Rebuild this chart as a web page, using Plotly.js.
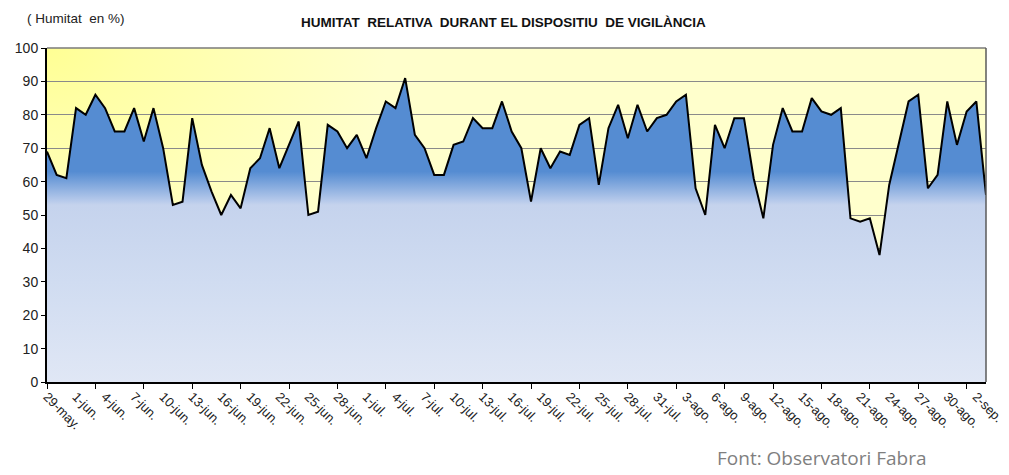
<!DOCTYPE html>
<html>
<head>
<meta charset="utf-8">
<script src="https://cdn.plot.ly/plotly-3.0.1.min.js"></script>
<style>
  html, body { margin: 0; padding: 0; background: #ffffff; }
  #chart { width: 1009px; height: 475px; }
</style>
</head>
<body>
<div id="chart"></div>
<script>
// Daily relative humidity (%) from 29 May to 3 Sep
const startDate = "2023-05-29";
const humidity = [
  69, 62, 61, 82, 80, 86, 82, 75, 75, 82,
  72, 82, 70, 53, 54, 79, 65, 57, 50, 56,
  52, 64, 67, 76, 64, 71, 78, 50, 51, 77,
  75, 70, 74, 67, 76, 84, 82, 91, 74, 70,
  62, 62, 71, 72, 79, 76, 76, 84, 75, 70,
  54, 70, 64, 69, 68, 77, 79, 59, 76, 83,
  73, 83, 75, 79, 80, 84, 86, 58, 50, 77,
  70, 79, 79, 61, 49, 71, 82, 75, 75, 85,
  81, 80, 82, 49, 48, 49, 38, 59, 72, 84,
  86, 58, 62, 84, 71, 81, 84, 56
];
const tickLabels = [
  "29-may.", "1-jun.", "4-jun.", "7-jun.", "10-jun.", "13-jun.", "16-jun.",
  "19-jun.", "22-jun.", "25-jun.", "28-jun.", "1-jul.", "4-jul.", "7-jul.",
  "10-jul.", "13-jul.", "16-jul.", "19-jul.", "22-jul.", "25-jul.", "28-jul.",
  "31-jul.", "3-ago.", "6-ago.", "9-ago.", "12-ago.", "15-ago.", "18-ago.",
  "21-ago.", "24-ago.", "27-ago.", "30-ago.", "2-sep."
];
const yTicks = [0, 10, 20, 30, 40, 50, 60, 70, 80, 90, 100];

// build the day categories
const dates = [];
(function () {
  const d0 = new Date(startDate + "T00:00:00Z");
  for (let i = 0; i < humidity.length; i++) {
    const d = new Date(d0.getTime() + i * 86400000);
    dates.push(d.toISOString().slice(0, 10));
  }
})();
const labelVals = tickLabels.map((_, k) => dates[k * 3]);
const minorVals = dates.filter((_, i) => i % 5 === 0);

const bgSvg =
  '<svg xmlns="http://www.w3.org/2000/svg" width="940" height="334" viewBox="0 0 940 334" preserveAspectRatio="none">' +
  '<defs><radialGradient id="g" gradientUnits="userSpaceOnUse" cx="0" cy="0" r="340" ' +
  'gradientTransform="scale(1,0.75)">' +
  '<stop offset="0" stop-color="#ffff94"/><stop offset="0.25" stop-color="#ffffa6"/><stop offset="1" stop-color="#ffffcc"/>' +
  '</radialGradient></defs><rect width="940" height="334" fill="#ffffcc"/>' +
  '<rect width="940" height="334" fill="url(#g)"/></svg>';
const bgUri = "data:image/svg+xml;charset=utf-8," + encodeURIComponent(bgSvg);

const trace = {
  x: dates,
  y: humidity,
  type: "scatter",
  mode: "lines",
  fill: "tozeroy",
  line: { color: "#000000", width: 2 },
  fillgradient: {
    type: "vertical",
    start: 0,
    stop: 100,
    colorscale: [
      [0, "rgb(224,231,245)"],
      [0.3, "rgb(208,220,241)"],
      [0.53, "rgb(197,211,237)"],
      [0.545, "rgb(180,200,234)"],
      [0.63, "rgb(85,140,210)"],
      [1, "rgb(85,140,210)"]
    ]
  },
  hoverinfo: "x+y",
  showlegend: false
};

const font = "Liberation Sans, Arial, sans-serif";

const layout = {
  width: 1009,
  height: 475,
  margin: { l: 47, r: 23, t: 48, b: 93 },
  paper_bgcolor: "#ffffff",
  plot_bgcolor: "rgba(0,0,0,0)",
  font: { family: font, size: 12, color: "#222222" },
  title: {
    text: "<b>HUMITAT  RELATIVA  DURANT EL DISPOSITIU  DE VIGILÀNCIA</b>",
    font: { family: font, size: 13.5, color: "#111111" },
    x: 0.486, xanchor: "center", xref: "paper",
    y: 0.953, yanchor: "middle", yref: "container"
  },
  xaxis: {
    type: "date",
    range: [dates[0], dates[dates.length - 1]],
    tickmode: "array",
    tickvals: labelVals,
    ticktext: tickLabels,
    tickangle: 45,
    ticks: "",
    tickfont: { family: font, size: 13, color: "#222222" },
    showgrid: false,
    zeroline: false,
    showline: true,
    linecolor: "#000000",
    linewidth: 2,
    minor: {
      tickmode: "array",
      tickvals: minorVals,
      ticks: "outside",
      ticklen: 5,
      tickwidth: 1,
      tickcolor: "#000000",
      showgrid: false
    },
    fixedrange: true
  },
  yaxis: {
    range: [0, 100],
    tickmode: "array",
    tickvals: yTicks,
    ticks: "outside",
    ticklen: 4,
    tickwidth: 1,
    tickcolor: "#000000",
    tickfont: { family: font, size: 14, color: "#222222" },
    showgrid: true,
    gridcolor: "#8a8a8a",
    gridwidth: 1,
    zeroline: false,
    showline: true,
    linecolor: "#000000",
    linewidth: 2,
    fixedrange: true
  },
  images: [{
    source: bgUri,
    xref: "paper", yref: "paper",
    x: 0, y: 1, sizex: 1, sizey: 1,
    xanchor: "left", yanchor: "top",
    sizing: "stretch",
    layer: "below"
  }],
  shapes: [
    { type: "line", xref: "paper", yref: "paper", x0: 0, x1: 1, y0: 1, y1: 1,
      line: { color: "#7a7a7a", width: 1.5 }, layer: "above" },
    { type: "line", xref: "paper", yref: "paper", x0: 1, x1: 1, y0: 0, y1: 1,
      line: { color: "#5a5a5a", width: 1.5 }, layer: "above" }
  ],
  annotations: [
    {
      text: "( Humitat  en %)",
      xref: "paper", yref: "paper",
      x: -0.023, y: 1.087, xanchor: "left", yanchor: "middle",
      showarrow: false,
      font: { family: font, size: 13.5, color: "#222222" }
    },
    {
      text: "Font: Observatori Fabra",
      xref: "paper", yref: "paper",
      x: 0.939, y: -0.228, xanchor: "right", yanchor: "middle",
      showarrow: false,
      font: { family: "Open Sans, Noto Sans, sans-serif", size: 19, color: "#7f7f7f" }
    }
  ]
};

Plotly.newPlot("chart", [trace], layout, { displayModeBar: false, staticPlot: true });
</script>
</body>
</html>
